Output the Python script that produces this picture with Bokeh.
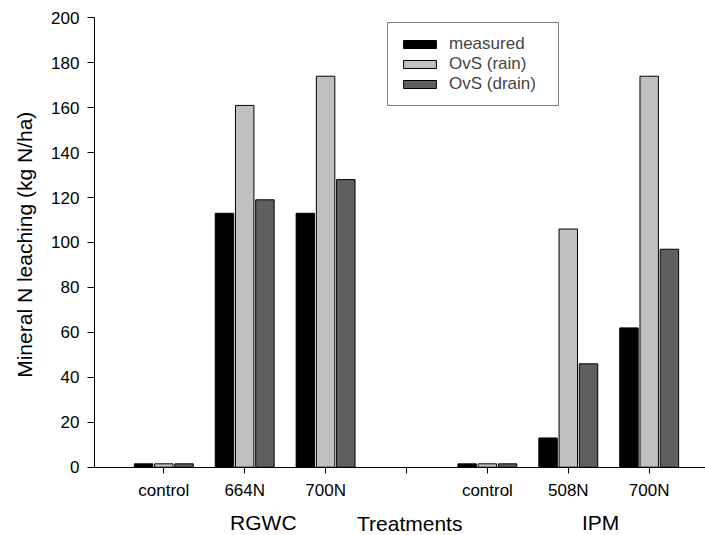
import math
from bokeh.plotting import figure
from bokeh.models import (ColumnDataSource, Range1d, FixedTicker, Label, Legend, LegendItem)
from bokeh.embed import file_html
from bokeh.resources import INLINE

# ---- data ----
tick_labels = ["control", "664N", "700N", "", "control", "508N", "700N"]
bar_positions = [1, 2, 3, 5, 6, 7]
measured = [1.5, 113, 113, 1.5, 13, 62]
ovs_rain = [1.5, 161, 174, 1.5, 106, 174]
ovs_drain = [1.5, 119, 128, 1.5, 46, 97]
series_names = ["measured", "OvS (rain)", "OvS (drain)"]
series_colors = ["#000000", "#c0c0c0", "#5f5f5f"]
group_names = ["RGWC", "IPM"]
group_centers = [2.23, 6.40]
y_ticks = list(range(0, 201, 20))

FONT = "Liberation Sans"

# whole canvas is the frame; axes are placed at fixed data locations
X0, X1 = -1.0185, 7.696
Y0, Y1 = -30.4, 207.7
p = figure(width=705, height=535, output_backend="svg", toolbar_location=None,
           x_range=Range1d(X0, X1), y_range=Range1d(Y0, Y1),
           min_border_left=0, min_border_right=0, min_border_top=0, min_border_bottom=0)
p.outline_line_color = None
p.xgrid.visible = False
p.ygrid.visible = False
p.background_fill_color = "white"
p.border_fill_color = "white"

offsets = [-0.25, 0.0, 0.25]
bar_w = 0.228
renderers = []
for vals, off, col in zip([measured, ovs_rain, ovs_drain], offsets, series_colors):
    src = ColumnDataSource(dict(x=[b + off for b in bar_positions], top=vals))
    r = p.vbar(x="x", top="top", bottom=0, width=bar_w, source=src,
               fill_color=col, line_color="#000000", line_width=1)
    renderers.append(r)

AXIS_X = 0.143

# axes
xa = p.xaxis[0]
xa.fixed_location = 0
xa.bounds = (AXIS_X, X1)
xa.ticker = FixedTicker(ticks=list(range(1, len(tick_labels) + 1)))
xa.major_label_overrides = {i + 1: t for i, t in enumerate(tick_labels)}
xa.minor_tick_line_color = None
xa.major_tick_in = 0
xa.major_tick_out = 6
xa.major_label_standoff = 8
xa.major_label_text_font = FONT
xa.major_label_text_font_size = "17px"
xa.major_label_text_color = "#000000"
xa.axis_line_color = "#000000"
xa.major_tick_line_color = "#000000"

ya = p.yaxis[0]
ya.fixed_location = AXIS_X
ya.bounds = (0, 200)
ya.ticker = FixedTicker(ticks=y_ticks)
ya.minor_tick_line_color = None
ya.major_tick_in = 0
ya.major_tick_out = 7
ya.major_label_standoff = 8
ya.major_label_text_font = FONT
ya.major_label_text_font_size = "17px"
ya.major_label_text_color = "#000000"
ya.axis_line_color = "#000000"
ya.major_tick_line_color = "#000000"

# legend
legend = Legend(items=[LegendItem(label=n, renderers=[r]) for n, r in zip(series_names, renderers)],
                location=(387, 429))
legend.glyph_width = 41
legend.glyph_height = 10
legend.label_height = 19
legend.label_width = 98
legend.spacing = 0
legend.padding = 11
legend.margin = 0
legend.label_standoff = 9
legend.label_text_font = FONT
legend.label_text_font_size = "17px"
legend.border_line_color = "#000000"
legend.border_line_width = 1
legend.background_fill_color = "white"
legend.background_fill_alpha = 1
p.add_layout(legend, "center")

# y axis title
p.add_layout(Label(x=-0.722, y=99, text="Mineral N leaching (kg N/ha)", angle=math.pi / 2,
                   text_align="center", text_baseline="middle", text_font=FONT,
                   text_font_size="21px", text_color="#000000"))
# group labels
for name, cx in zip(group_names, group_centers):
    p.add_layout(Label(x=cx, y=-24.8, text=name, text_align="center", text_baseline="alphabetic",
                       text_font=FONT, text_font_size="21px", text_color="#000000"))
p.add_layout(Label(x=4.04, y=-25.2, text="Treatments", text_align="center", text_baseline="alphabetic",
                   text_font=FONT, text_font_size="21px", text_color="#000000"))

open("out.html", "w").write(file_html(p, INLINE))
